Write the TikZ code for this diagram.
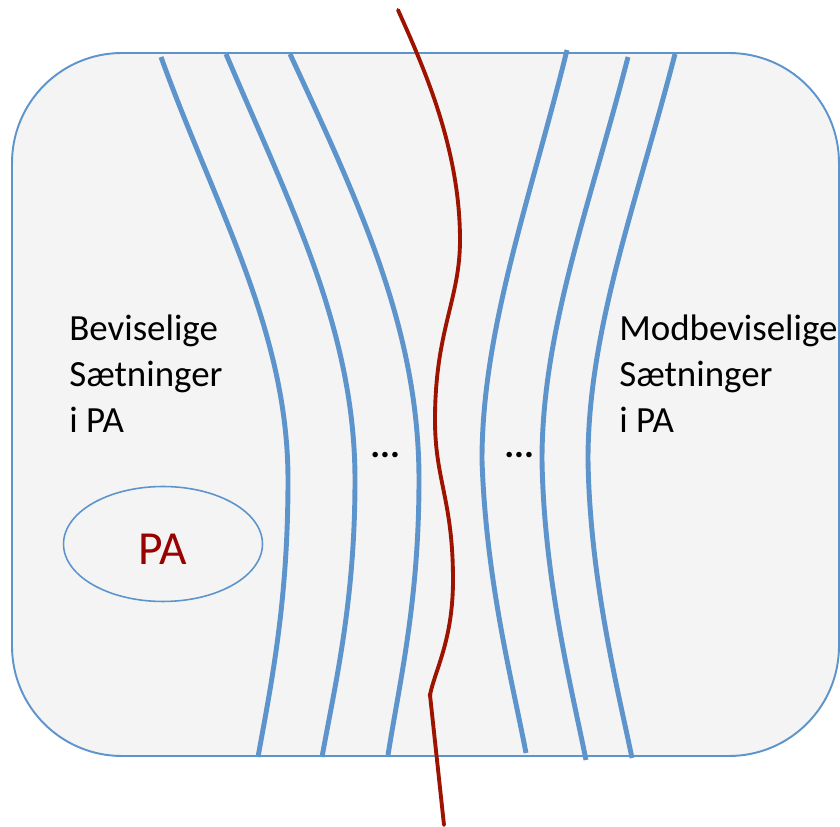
\documentclass[tikz,border=0pt]{standalone}
\usepackage{fontspec}
\setmainfont{Carlito}
\usetikzlibrary{shapes.geometric}
\definecolor{bline}{RGB}{94,148,204}
\definecolor{rline}{RGB}{158,18,0}
\definecolor{patext}{RGB}{153,0,0}
\definecolor{bgfill}{RGB}{244,244,244}
\tikzset{
  strand/.style={draw=bline, line width=2.8pt},
  redstrand/.style={draw=rline, line width=2.2pt, line cap=round},
  lbl/.style={font=\fontsize{21}{26}\selectfont, anchor=base west, inner sep=0pt, text=black},
  dots/.style={font=\fontsize{21}{26}\selectfont\bfseries, anchor=base west, inner sep=0pt},
}
\begin{document}
\begin{tikzpicture}[x=0.02cm, y=-0.02cm]
\useasboundingbox (0,0) rectangle (840,827);
% frame
\draw[draw=bline, line width=1.1pt, fill=bgfill, rounded corners=2.2cm] (12,53) rectangle (839,756);
% left strands
\draw[strand] (161,57) .. controls (215,207) and (288,330) .. (288,480) .. controls (288,600) and (272,680) .. (258,757);
\draw[strand] (226,54) .. controls (290,205) and (355,330) .. (355,480) .. controls (355,600) and (336,680) .. (322,757);
\draw[strand] (290,54) .. controls (360,205) and (419,330) .. (419,480) .. controls (419,600) and (400,680) .. (388,755);
% right strands
\draw[strand] (567,50) .. controls (530,200) and (482,330) .. (482,460) .. controls (486,580) and (512,680) .. (526,753);
\draw[strand] (628,57) .. controls (590,205) and (542,330) .. (542,460) .. controls (544,580) and (572,690) .. (586,760);
\draw[strand] (675,54) .. controls (636,205) and (588,330) .. (588,460) .. controls (590,580) and (618,690) .. (632,758);
% red strand
\coordinate (rtop) at (398,10);
\coordinate (rkink) at (430,695);
\coordinate (rbot) at (444,825);
\draw[redstrand] (rtop) .. controls (425,70) and (460,150) .. (460,240)
  .. controls (460,300) and (435,330) .. (435,420)
  .. controls (435,480) and (453,500) .. (453,580)
  .. controls (453,640) and (435,670) .. (rkink) -- (rbot);
\fill[rline] (rkink) circle (2.3);
% ellipse
\node[ellipse, draw=bline, line width=0.9pt, minimum width=3.98cm, minimum height=2.3cm, inner sep=0pt] (paell) at (163,544) {};
\node[font=\fontsize{27}{32}\selectfont, text=patext, inner sep=0pt] (pa) at (163,549) {PA};
% labels
\node[lbl] (l1) at (69,341) {Beviselige};
\node[lbl] (l2) at (69,387) {Sætninger};
\node[lbl] (l3) at (69,433) {i PA};
\node[lbl] (r1) at (619,341) {Modbeviselige};
\node[lbl] (r2) at (619,387) {Sætninger};
\node[lbl] (r3) at (619,433) {i PA};
\node[dots] (d1) at (370,458) {...};
\node[dots] (d2) at (504,458) {...};
\end{tikzpicture}
\end{document}
